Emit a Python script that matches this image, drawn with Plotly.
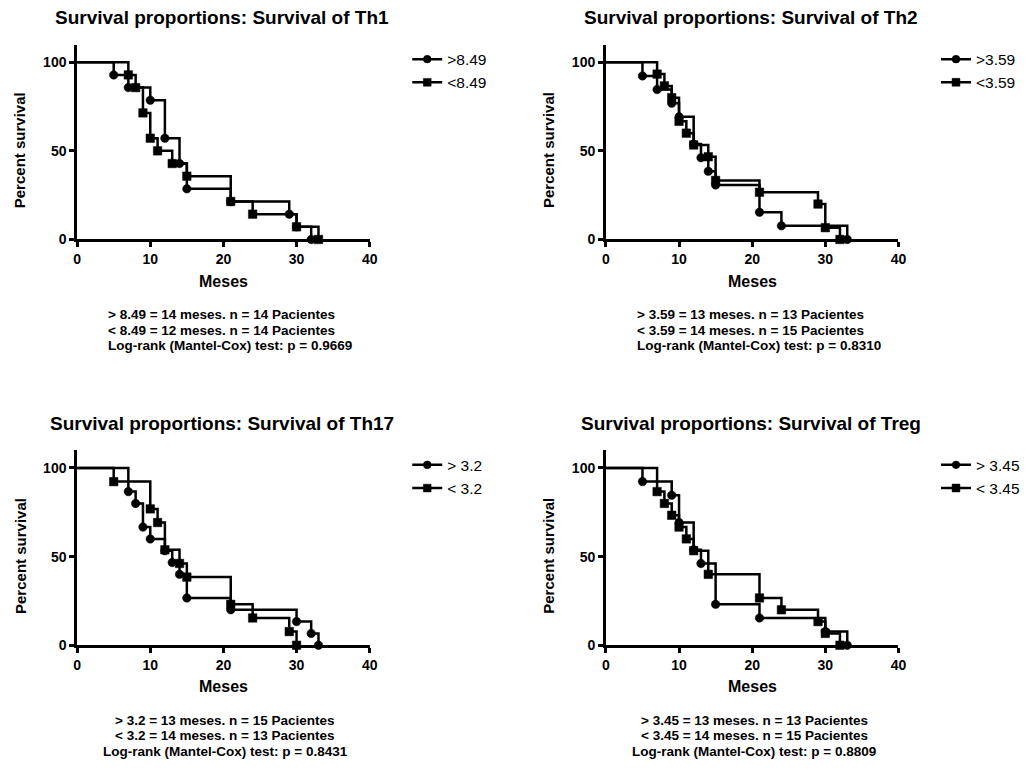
import plotly.graph_objects as go

W, H = 1029, 770

# ---------------- data ----------------
# Th1
th1_hi_t = [0, 5, 7, 10, 12, 14, 15, 21, 29, 30, 32]
th1_hi_s = [100, 92.86, 85.71, 78.57, 57.14, 42.86, 28.57, 21.43, 14.29, 7.14, 0]
th1_lo_t = [0, 7, 8, 9, 10, 11, 13, 15, 21, 24, 30, 33]
th1_lo_s = [100, 92.86, 85.71, 71.43, 57.14, 50.0, 42.86, 35.71, 21.43, 14.29, 7.14, 0]
# Th2
th2_hi_t = [0, 5, 7, 9, 10, 12, 13, 14, 15, 21, 24, 33]
th2_hi_s = [100, 92.31, 84.62, 76.92, 69.23, 53.85, 46.15, 38.46, 30.77, 15.38, 7.69, 0]
th2_lo_t = [0, 7, 8, 9, 10, 11, 12, 14, 15, 21, 29, 30, 32]
th2_lo_s = [100, 93.33, 86.67, 80.0, 66.67, 60.0, 53.33, 46.67, 33.33, 26.67, 20.0, 6.67, 0]
# Th17
th17_hi_t = [0, 7, 8, 9, 10, 12, 13, 14, 15, 21, 30, 32, 33]
th17_hi_s = [100, 86.67, 80.0, 66.67, 60.0, 53.33, 46.67, 40.0, 26.67, 20.0, 13.33, 6.67, 0]
th17_lo_t = [0, 5, 10, 11, 12, 14, 15, 21, 24, 29, 30]
th17_lo_s = [100, 92.31, 76.92, 69.23, 53.85, 46.15, 38.46, 23.08, 15.38, 7.69, 0]
# Treg
treg_hi_t = [0, 5, 9, 10, 12, 13, 15, 21, 30, 33]
treg_hi_s = [100, 92.31, 84.62, 69.23, 53.85, 46.15, 23.08, 15.38, 7.69, 0]
treg_lo_t = [0, 7, 8, 9, 10, 11, 12, 14, 21, 24, 29, 30, 32]
treg_lo_s = [100, 86.67, 80.0, 73.33, 66.67, 60.0, 53.33, 40.0, 26.67, 20.0, 13.33, 6.67, 0]

titles = ["Survival proportions: Survival of Th1", "Survival proportions: Survival of Th2",
          "Survival proportions: Survival of Th17", "Survival proportions: Survival of Treg"]
hi_names = ["&gt;8.49", "&gt;3.59", "&gt; 3.2", "&gt; 3.45"]
lo_names = ["&lt;8.49", "&lt;3.59", "&lt; 3.2", "&lt; 3.45"]
stats = [
    ["&gt; 8.49 = 14 meses. n = 14 Pacientes", "&lt; 8.49 = 12 meses. n = 14 Pacientes",
     "Log-rank (Mantel-Cox) test: p = 0.9669"],
    ["&gt; 3.59 = 13 meses. n = 13 Pacientes", "&lt; 3.59 = 14 meses. n = 15 Pacientes",
     "Log-rank (Mantel-Cox) test: p = 0.8310"],
    ["&gt; 3.2 = 13 meses. n = 15 Pacientes", "&lt; 3.2 = 14 meses. n = 13 Pacientes",
     "Log-rank (Mantel-Cox) test: p = 0.8431"],
    ["&gt; 3.45 = 13 meses. n = 13 Pacientes", "&lt; 3.45 = 14 meses. n = 15 Pacientes",
     "Log-rank (Mantel-Cox) test: p = 0.8809"],
]
x_ticks = [0, 10, 20, 30, 40]
y_ticks = [0, 50, 100]
series = [
    (th1_hi_t, th1_hi_s, th1_lo_t, th1_lo_s),
    (th2_hi_t, th2_hi_s, th2_lo_t, th2_lo_s),
    (th17_hi_t, th17_hi_s, th17_lo_t, th17_lo_s),
    (treg_hi_t, treg_hi_s, treg_lo_t, treg_lo_s),
]

# ---------------- layout helpers ----------------
FONT = "Liberation Sans, Arial, sans-serif"
offsets = [(0, 0), (535, 0), (0, 410), (535, 410)]


def pxx(x):
    return x / W


def pxy(y):
    return 1 - y / H


fig = go.Figure()
layout = dict(
    width=W, height=H, margin=dict(l=0, r=0, t=0, b=0),
    paper_bgcolor="white", plot_bgcolor="white",
    font=dict(family=FONT, color="black"),
    annotations=[],
)

for i, (dx, dy) in enumerate(offsets):
    n = "" if i == 0 else str(i + 1)
    xa, ya = "x" + n, "y" + n
    leg = "legend" + n
    hi_t, hi_s, lo_t, lo_s = series[i]
    for t, s, sym, name in ((hi_t, hi_s, "circle", hi_names[i]), (lo_t, lo_s, "square", lo_names[i])):
        sizes = [0] + [8.5] * (len(t) - 1)
        fig.add_trace(go.Scatter(
            x=t, y=s, mode="lines+markers", name=name,
            line=dict(color="black", width=2.5, shape="hv"),
            marker=dict(symbol=sym, size=sizes, color="black", opacity=1,
                        line=dict(width=0.5, color="black")),
            xaxis=xa, yaxis=ya, legend=leg, cliponaxis=False,
        ))
    axcommon = dict(showline=True, linewidth=2.75, linecolor="black", ticks="outside",
                    ticklen=5, tickwidth=2.5, tickcolor="black", showgrid=False,
                    zeroline=False, tickfont=dict(family=FONT, size=14, color="black"))
    layout["xaxis" + n] = dict(axcommon, domain=[pxx(74 + dx), pxx(370 + dx)], range=[0, 40],
                               tickmode="array", tickvals=x_ticks,
                               ticktext=["<b>%d</b>" % v for v in x_ticks], anchor=ya)
    layout["yaxis" + n] = dict(axcommon, domain=[pxy(242 + dy), pxy(45 + dy)], range=[0, 110],
                               tickmode="array", tickvals=y_ticks,
                               ticktext=["<b>%d</b>" % v for v in y_ticks], anchor=xa)
    layout[leg] = dict(x=pxx(408 + dx), y=pxy(43 + dy), xanchor="left", yanchor="top",
                       bgcolor="rgba(0,0,0,0)", borderwidth=0,
                       font=dict(family=FONT, size=15.5, color="black"))
    ann = layout["annotations"]
    ann.append(dict(text="<b>%s</b>" % titles[i], x=pxx(221 + dx), y=pxy(18 + dy), xref="paper",
                    yref="paper", showarrow=False, xanchor="center", yanchor="middle",
                    font=dict(family=FONT, size=19)))
    ann.append(dict(text="<b>Percent survival</b>", x=pxx(16 + dx), y=pxy(152 + dy), xref="paper",
                    yref="paper", showarrow=False, textangle=-90, xanchor="center",
                    yanchor="middle", font=dict(family=FONT, size=15)))
    ann.append(dict(text="<b>Meses</b>", x=pxx(222 + dx), y=pxy(284 + dy), xref="paper",
                    yref="paper", showarrow=False, xanchor="center", yanchor="middle",
                    font=dict(family=FONT, size=16)))
    for k, line in enumerate(stats[i]):
        yy = 318 + 15.5 * k + dy
        if dy == 0:
            ann.append(dict(text="<b>%s</b>" % line, x=pxx(103 + dx), y=pxy(yy), xref="paper",
                            yref="paper", showarrow=False, xanchor="left", yanchor="middle",
                            font=dict(family=FONT, size=13.5)))
        else:
            ann.append(dict(text="<b>%s</b>" % line, x=pxx(224 + dx), y=pxy(yy), xref="paper",
                            yref="paper", showarrow=False, xanchor="center", yanchor="middle",
                            font=dict(family=FONT, size=13.5)))

fig.update_layout(**layout)
fig.write_html(
    "out.html",
    config={"displayModeBar": False},
    post_script=("document.body.style.margin='0';"
                 "document.body.style.overflow='hidden';"
                 "document.documentElement.style.overflow='hidden';"),
)
